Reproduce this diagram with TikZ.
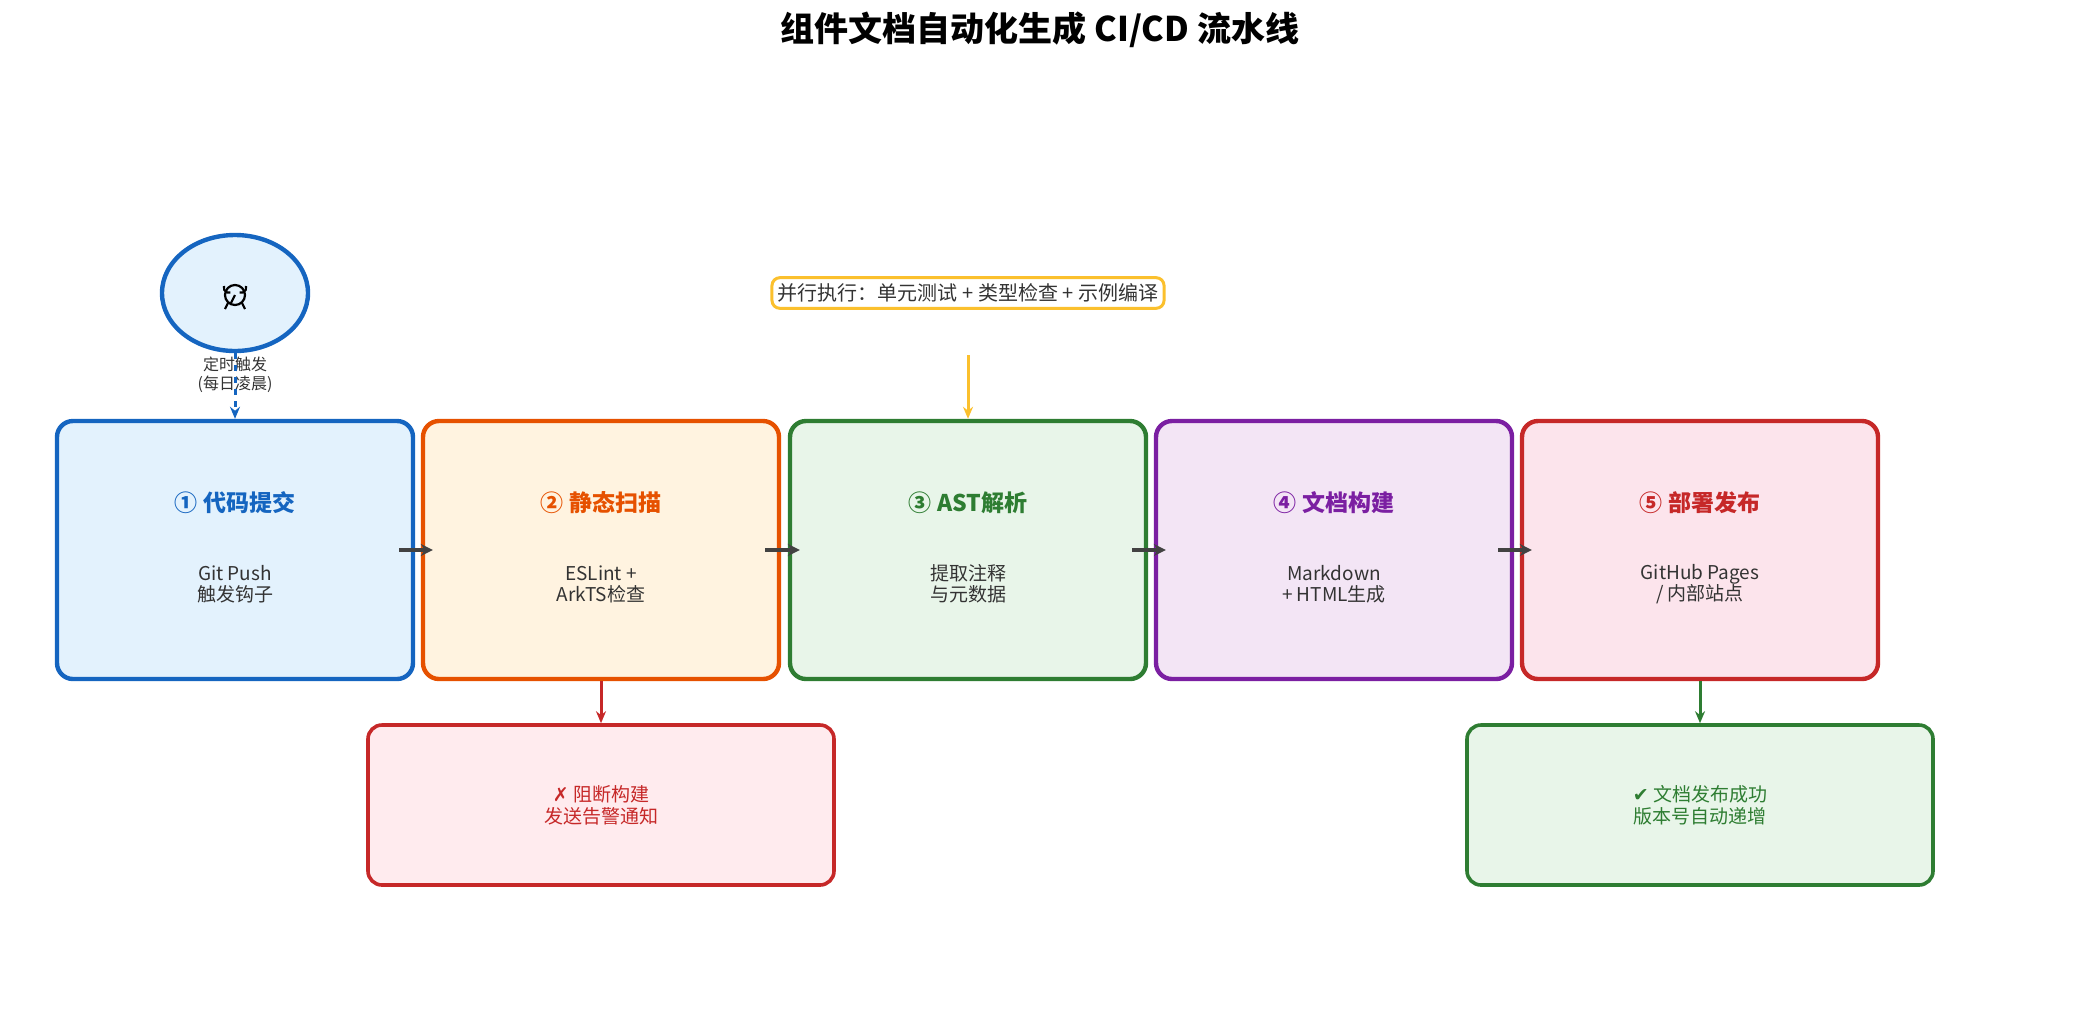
\documentclass[tikz,border=0pt]{standalone}
\usepackage{fontspec}
\setmainfont{Noto Sans CJK SC}
\newfontfamily\dv{DejaVu Sans}
\usetikzlibrary{arrows.meta,shapes.geometric}
\definecolor{cb}{HTML}{1565C0}\definecolor{fb}{HTML}{E3F2FD}
\definecolor{co}{HTML}{E65100}\definecolor{fo}{HTML}{FFF3E0}
\definecolor{cg}{HTML}{2E7D32}\definecolor{fg}{HTML}{E8F5E9}
\definecolor{cp}{HTML}{7B1FA2}\definecolor{fp}{HTML}{F3E5F5}
\definecolor{cr}{HTML}{C62828}\definecolor{fr}{HTML}{FCE4EC}\definecolor{fr2}{HTML}{FFEBEE}
\definecolor{cy}{HTML}{FBC02D}\definecolor{tx}{HTML}{333333}\definecolor{ar}{HTML}{424242}
\begin{document}
\begin{tikzpicture}[x=0.5pt,y=-0.5pt,
 stage/.style={draw,line width=2.2pt,rounded corners=8pt,minimum width=178pt,minimum height=129pt},
 res/.style={draw,line width=1.8pt,rounded corners=7pt,minimum width=233pt,minimum height=80pt,font=\fontsize{9.5}{11}\selectfont,align=center},
 hd/.style={font=\bfseries\fontsize{11.5}{13}\selectfont},
 bd/.style={font=\fontsize{9.5}{10.5}\selectfont,align=center,text=tx},
 flow/.style={-{Stealth[length=6pt,width=6pt]},ar,line width=2.2pt},
 dn/.style={-{Stealth[length=6pt,width=5pt]},line width=1.5pt}]
\useasboundingbox (0,0) rectangle (2080,1029);
\node[font=\bfseries\fontsize{17}{20}\selectfont] (title) at (1040,30) {组件文档自动化生成 CI/CD 流水线};
\foreach \i/\x/\c/\f/\h/\b in {1/235/cb/fb/{① 代码提交}/{Git Push\\触发钩子},2/601/co/fo/{② 静态扫描}/{ESLint +\\ArkTS检查},3/968/cg/fg/{③ AST解析}/{提取注释\\与元数据},4/1334/cp/fp/{④ 文档构建}/{Markdown\\+ HTML生成},5/1700/cr/fr/{⑤ 部署发布}/{GitHub Pages\\/ 内部站点}}{
 \node[stage,draw=\c,fill=\f] (s\i) at (\x,550) {};
 \node[hd,text=\c] (h\i) at (\x,503) {\h};
 \node[bd] (b\i) at (\x,584) {\b};
}
\foreach \a/\b in {1/2,2/3,3/4,4/5} \draw[flow] ([xshift=-8pt]s\a.east) -- ([xshift=6pt]s\b.west);
\node[ellipse,draw=cb,fill=fb,line width=2.2pt,minimum width=73pt,minimum height=58pt] (clk) at (235,293) {};
\begin{scope}[line width=1.1pt]
 \draw (235,295) circle (10);
 \draw (235,295) -- (231,303);
 \draw (224,286) arc (200:70:5);
 \draw (246,286) arc (-20:110:5);
 \draw (228,303) -- (225,309) (242,303) -- (245,309);
\end{scope}
\node[font=\fontsize{8}{9.5}\selectfont,align=center,text=tx] (clkl) at (235,375) {定时触发\\(每日凌晨)};
\draw[dn,cb,dashed] (clk.south) -- (s1.north);
\node[draw=cy,fill=white,line width=1.5pt,rounded corners=4pt,font=\fontsize{10}{12}\selectfont,text=tx,inner sep=3pt] (par) at (968,293) {并行执行：单元测试 + 类型检查 + 示例编译};
\coordinate (pa) at (968,355);
\draw[dn,cy] (pa) -- (s3.north);
\node[res,draw=cr,fill=fr2,text=cr] (fail) at (601,805) {{\dv\bfseries ✗} 阻断构建\\发送告警通知};
\node[res,draw=cg,fill=fg,text=cg] (ok) at (1700,805) {{\dv ✔} 文档发布成功\\版本号自动递增};
\draw[dn,cr] (s2.south) -- (fail.north);
\draw[dn,cg] (s5.south) -- (ok.north);
\end{tikzpicture}
\end{document}
